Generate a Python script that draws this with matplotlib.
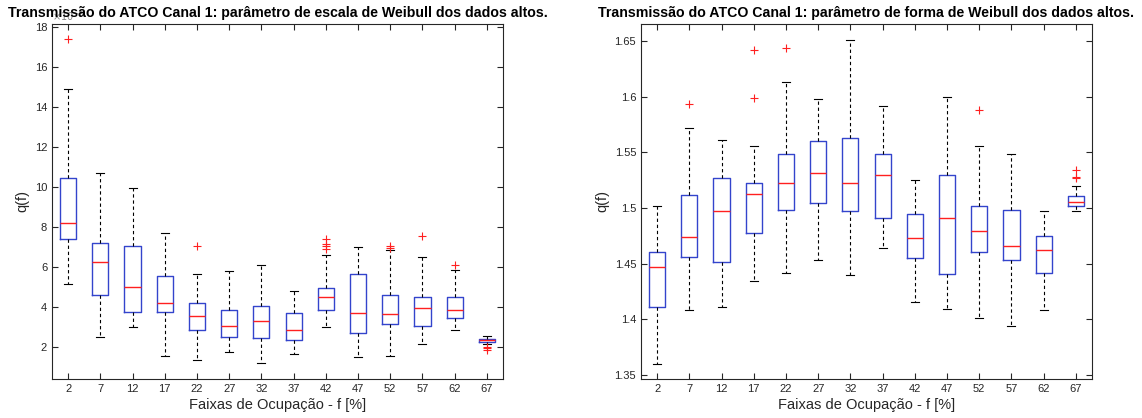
import matplotlib
matplotlib.use('Agg')
import matplotlib.pyplot as plt
from matplotlib.ticker import FuncFormatter

plt.rcParams['font.family'] = ['Liberation Sans', 'DejaVu Sans']

# Faixas de ocupacao (eixo x)
faixas = [2, 7, 12, 17, 22, 27, 32, 37, 42, 47, 52, 57, 62, 67]

# Parametro de escala (x10^-3)
esc_whislo = [5.14, 2.47, 2.97, 1.52, 1.35, 1.75, 1.17, 1.63, 2.97, 1.47, 1.55, 2.14, 2.85, 2.15]
esc_q1 = [7.40, 4.61, 3.73, 3.74, 2.84, 2.49, 2.42, 2.32, 3.83, 2.69, 3.13, 3.06, 3.44, 2.22]
esc_med = [8.20, 6.22, 4.98, 4.21, 3.56, 3.04, 3.31, 2.85, 4.51, 3.68, 3.63, 3.94, 3.86, 2.32]
esc_q3 = [10.46, 7.18, 7.03, 5.54, 4.20, 3.84, 4.05, 3.68, 4.96, 5.64, 4.60, 4.50, 4.50, 2.39]
esc_whishi = [14.90, 10.71, 9.94, 7.68, 5.62, 5.80, 6.09, 4.80, 6.59, 6.97, 6.86, 6.49, 5.82, 2.52]
esc_out = [[17.41], [], [], [], [7.03], [], [], [], [7.40, 7.15, 7.03, 6.91], [],
           [7.06, 6.94], [7.55], [6.09], [2.00, 1.93, 1.85]]

# Parametro de forma
forma_whislo = [1.360, 1.408, 1.4115, 1.4342, 1.4417, 1.4534, 1.4399, 1.4642, 1.4157, 1.4097, 1.4010, 1.3944, 1.4082, 1.4970]
forma_q1 = [1.4109, 1.4564, 1.4519, 1.4773, 1.4980, 1.5048, 1.4977, 1.4911, 1.4549, 1.4411, 1.4606, 1.4534, 1.4417, 1.5022]
forma_med = [1.4468, 1.4741, 1.4970, 1.5127, 1.5228, 1.5318, 1.5228, 1.5297, 1.4728, 1.4911, 1.4794, 1.4663, 1.4620, 1.5055]
forma_q3 = [1.4609, 1.5118, 1.5273, 1.5225, 1.5486, 1.5599, 1.5629, 1.5486, 1.4944, 1.5297, 1.5015, 1.4983, 1.4750, 1.5105]
forma_whishi = [1.5015, 1.5716, 1.5611, 1.5554, 1.6128, 1.5976, 1.6509, 1.5919, 1.5252, 1.5994, 1.5557, 1.5486, 1.4970, 1.5195]
forma_out = [[], [1.5937], [], [1.6416, 1.5988], [1.644], [], [], [], [], [],
             [1.5883], [], [], [1.5342, 1.5282, 1.5270]]

AZUL = '#3344cc'
VERMELHO = '#ff2020'
CINZA = '#262626'


def make_stats(lo, q1, med, q3, hi, out):
    stats = []
    for i in range(len(med)):
        stats.append(dict(whislo=lo[i], q1=q1[i], med=med[i], q3=q3[i],
                          whishi=hi[i], fliers=out[i]))
    return stats


def draw(ax, stats, title):
    ax.bxp(stats, positions=range(1, len(faixas) + 1), widths=0.5,
           capwidths=0.25, showfliers=True,
           boxprops=dict(color=AZUL, lw=1.0),
           medianprops=dict(color=VERMELHO, lw=1.0),
           whiskerprops=dict(color='k', lw=0.8, ls=(0, (3, 2.5))),
           capprops=dict(color='k', lw=0.8),
           flierprops=dict(marker='+', markeredgecolor=VERMELHO, markersize=6,
                           markeredgewidth=0.8, ls='none'))
    ax.set_xlim(0.5, len(faixas) + 0.5)
    ax.set_xticks(range(1, len(faixas) + 1))
    ax.set_xticklabels([str(f) for f in faixas])
    ax.tick_params(direction='in', length=4, top=True, right=True,
                   labelsize=8, colors=CINZA, width=0.8)
    for s in ax.spines.values():
        s.set_color(CINZA)
        s.set_linewidth(0.8)
    ax.set_xlabel('Faixas de Ocupação - f [%]', fontsize=10.5, color=CINZA, labelpad=3)
    ax.set_ylabel('q(f)', fontsize=10.5, color=CINZA)
    ax.set_title(title, fontsize=10.2, fontweight='bold', pad=5)


fig = plt.figure(figsize=(11.42, 4.18), dpi=100)
ax1 = fig.add_axes([52 / 1142, 39 / 418, 451 / 1142, 355 / 418])
ax2 = fig.add_axes([641 / 1142, 39 / 418, 451 / 1142, 355 / 418])

draw(ax1, make_stats(esc_whislo, esc_q1, esc_med, esc_q3, esc_whishi, esc_out),
     'Transmissão do ATCO Canal 1: parâmetro de escala de Weibull dos dados altos.')
ax1.set_ylim(0.38, 18.17)
ax1.set_yticks([2, 4, 6, 8, 10, 12, 14, 16, 18])
# expoente do eixo y (parcialmente coberto pelo titulo, como no original)
ax1.text(0.0, 1.002, r'$\times10^{-3}$', transform=ax1.transAxes, fontsize=7,
         color='#888888', va='bottom', ha='left', zorder=0)

draw(ax2, make_stats(forma_whislo, forma_q1, forma_med, forma_q3, forma_whishi, forma_out),
     'Transmissão do ATCO Canal 1: parâmetro de forma de Weibull dos dados altos.')
ax2.set_ylim(1.3464, 1.6653)
ax2.set_yticks([1.35, 1.4, 1.45, 1.5, 1.55, 1.6, 1.65])
ax2.yaxis.set_major_formatter(FuncFormatter(lambda v, p: '%g' % round(v, 3)))

fig.savefig('out.png', dpi=100)
